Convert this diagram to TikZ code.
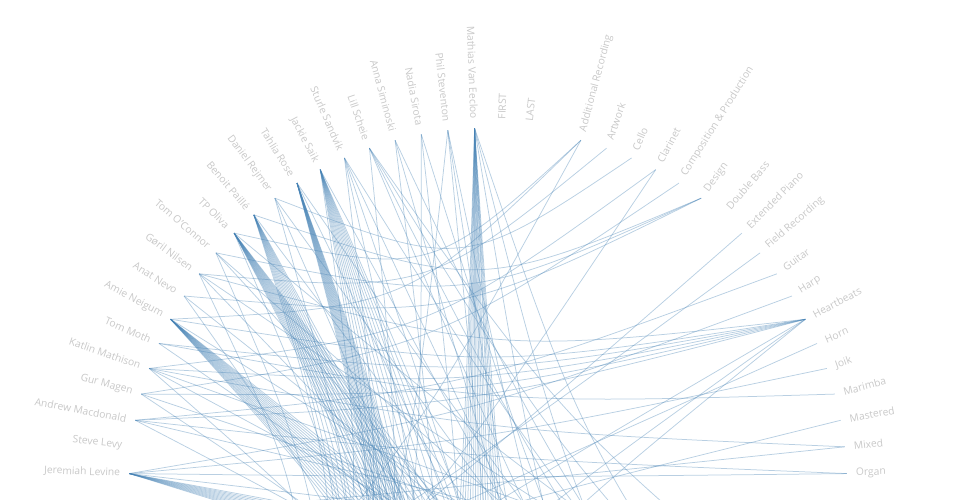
\documentclass[tikz,border=0pt]{standalone}
\usepackage{fontspec}
\setmainfont{Open Sans}
\usetikzlibrary{calc}
\definecolor{steel}{RGB}{70,130,180}
\definecolor{lightlbl}{RGB}{200,200,200}
\newcommand\chord[2]{\draw[link] (#1) .. controls ($0.3*(ctr)+0.35*(#1)+0.35*(#2)$) .. (#2);}

\begin{document}
\begin{tikzpicture}[x=1pt,y=1pt,
  lbl/.style={font=\fontsize{10.3}{12}\selectfont,text=lightlbl,inner sep=0pt},
  link/.style={draw=steel,line width=0.75pt,draw opacity=0.38}]
\useasboundingbox (0,0) rectangle (960,-500);
\clip (0,0) rectangle (960,-500);
\coordinate (ctr) at (488,-487);
\foreach \name [count=\k from 0] in {Organ,Mixed,Mastered,Marimba,Joik,Horn,Heartbeats,Harp,Guitar,Field Recording,Extended Piano,Double Bass,Design,Composition \& Production,Clarinet,Cello,Artwork,Additional Recording,{},LAST,FIRST,Mathias Van Eecloo,Phil Steventon,Nadia Sirota,Anna Siminoski,Lill Scheie,Sturle Sandvik,Jackie Saik,Tahlia Rose,Daniel Rejmer,Benoit Paillé,TP Oliva,Tom O'Connor,Gøril Nilsen,Anat Nevo,Amie Neigum,Tom Moth,Katlin Mathison,Gur Magen,Andrew Macdonald,Steve Levy,Jeremiah Levine}{
  \pgfmathsetmacro\ang{(\k+0.5)*360/84}
  \pgfmathsetmacro\flip{\ang-180}
  \coordinate (n\k) at ($(ctr)+(\ang:359)$);
  \ifx\name\empty\else
  \ifnum\k<21
    \node[lbl,anchor=west,rotate=\ang] (t\k) at ($(ctr)+(\ang:368)$) {\name};
  \else
    \node[lbl,anchor=east,rotate=\flip] (t\k) at ($(ctr)+(\ang:368)$) {\name};
  \fi\fi
}
\foreach \a in {183,...,357} \coordinate (b\a) at ($(ctr)+(\a:359)$);
\foreach \p/\a/\s/\b in {21/261/1/277,27/246/3/285,28/251/1/267,30/240/3/276,31/264/2/294,35/272/2/302,41/314/2/334}{
  \pgfmathtruncatemacro\c{\a+\s}
  \foreach \t in {\a,\c,...,\b} \chord{n\p}{b\t};
}
\foreach \u/\v in {n21/b293,n21/b307,n21/b321,
  n22/b240,n22/b274,n22/b283,n22/b292,
  n23/b250,n23/b268,n23/b300,
  n24/b262,n24/b288,n24/b315,
  n25/b250,n25/b300,n25/b312,n25/b325,n25/b336,
  n26/b245,n26/b262,n26/b280,n26/b298,n26/b318,
  n27/b240,n27/b300,
  n28/b285,n28/b310,
  n29/n15,n29/b245,n29/b270,n29/b305,
  n30/n12,n30/b300,
  n31/n17,n31/b250,n31/b330,
  n32/n12,n32/b240,n32/b300,n32/b318,
  n33/n16,n33/n6,n33/b235,n33/b296,n33/b330,
  n34/n12,n34/b260,n34/b310,
  n35/n17,n35/n6,n35/b320,
  n36/n6,n36/n3,n36/b305,
  n37/n6,n37/n14,n37/n1,n37/b275,n37/b315,n37/b340,
  n38/n6,n38/n13,n38/b290,n38/b335,
  n39/n6,n39/n8,n39/n0,n39/b300,n39/b342,
  n41/n7,n41/n4,n41/n0,n41/b345,
  n17/b215,n14/b225,n10/b214,n9/b208,n6/b230,n6/b215,n6/b240,n5/b205,n2/b200,n1/b185}
  \chord{\u}{\v};
\end{tikzpicture}
\end{document}
